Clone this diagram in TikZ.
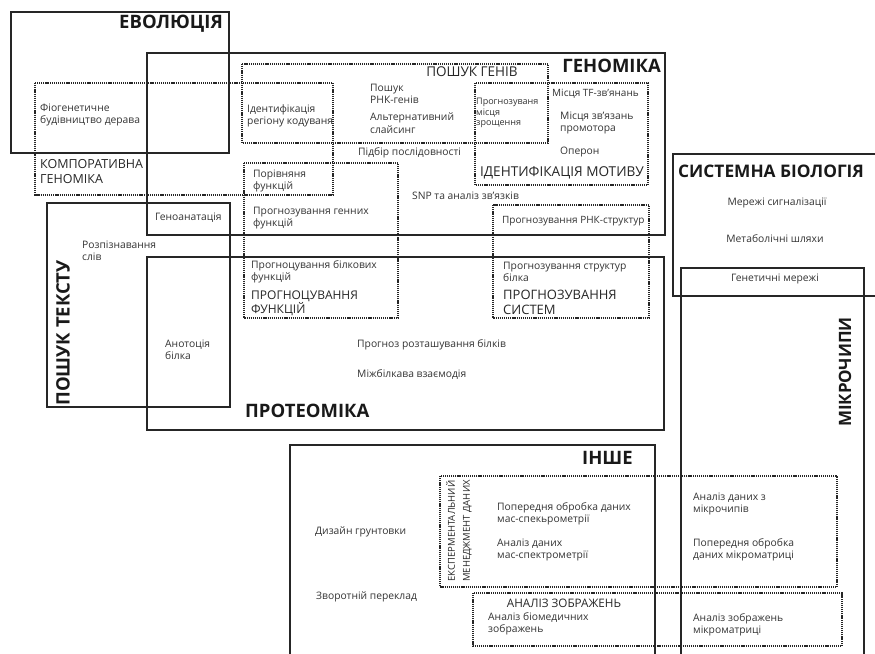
\documentclass[tikz,border=0pt]{standalone}
\usepackage{fontspec}
\setmainfont{Open Sans}

\begin{document}
\begin{tikzpicture}[x=1pt,y=-1pt,
    field/.style={draw=black!85,line width=2.2pt},
    area/.style={draw=black!85,line width=1.8pt,dash pattern=on 1.2pt off 0.9pt},
    title/.style={font=\fontsize{18.5}{18.5}\selectfont\bfseries,text=black!90,inner sep=0pt},
    caps/.style={font=\fontsize{12.5}{15}\selectfont,text=black!85,inner sep=0pt,align=left},
    item/.style={font=\fontsize{10.3}{12.5}\selectfont,text=black!80,inner sep=0pt,align=left}]
      % \draw[help lines](0,0) grid[step=50] (875,653);

      % Bounding box
      \clip (0,0) rectangle (875,653);

      % fields
      \draw[field] (11,12) rectangle (229,153);
      \draw[field] (147,53) rectangle (665,235);
      \draw[field] (47,203) rectangle (230,407);
      \draw[field] (147,257) rectangle (664,430);
      \draw[field] (673,154) rectangle (885,296);
      \draw[field] (681,268) rectangle (864,665);
      \draw[field] (290,445) rectangle (655,665);

      % dotted areas
      \draw[area] (35,83) rectangle (333,195);
      \draw[area] (242,64) rectangle (548,143);
      \draw[area] (244,163) rectangle (398,318);
      \draw[area] (475,83) rectangle (648,185);
      \draw[area] (493,205) rectangle (649,318);
      \draw[area] (440,476) rectangle (837,587);
      \draw[area] (473,593) rectangle (842,646);

      % titles
      \draw (223,24) node (evolution)[title,left] {ЕВОЛЮЦІЯ};
      \draw (661,66) node (genomics)[title,left] {ГЕНОМІКА};
      \draw (678,171) node (sysbio)[title,right,font=\fontsize{17.3}{17.3}\selectfont\bfseries] {СИСТЕМНА БІОЛОГІЯ};
      \draw (245,411) node (proteomics)[title,right] {ПРОТЕОМІКА};
      \draw (633,458) node (other)[title,left] {ІНШЕ};
      \draw (63,333) node (textmining)[title,rotate=90] {ПОШУК ТЕКСТУ};
      \draw (845,372) node (microarray)[title,rotate=90,font=\fontsize{17}{17}\selectfont\bfseries] {МІКРОЧИПИ};

      % evolution / comparative genomics
      \draw (40,115) node (phylo)[item,right] {Фіогенетичне\\будівництво дерава};
      \draw (40,172) node (compgen)[caps,right] {КОМПОРАТИВНА\\ГЕНОМІКА};
      \draw (247,116) node (coding)[item,right] {Ідентифікація\\регіону кодуваня};
      \draw (253,181) node (funccomp)[item,right] {Порівняня\\функцій};

      % gene finding
      \draw (472,72) node (genefind)[caps,font=\fontsize{13.5}{15}\selectfont] {ПОШУК ГЕНІВ};
      \draw (370,94) node (rnagenes)[item,right] {Пошук\\РНК-генів};
      \draw (370,123) node (splicing)[item,right] {Альтернативний\\слайсинг};
      \draw (476,113) node (splicesite)[item,right,font=\fontsize{9}{10.5}\selectfont] {Прогнозуваня\\місця\\зрощення};

      % motif
      \draw (552,94) node (tfsites)[item,right,font=\fontsize{10}{12.5}\selectfont] {Місця TF-зв’янань};
      \draw (560,123) node (promoter)[item,right] {Місця зв’язань\\промотора};
      \draw (560,152) node (operon)[item,right] {Оперон};
      \draw (562,173) node (motif)[caps,font=\fontsize{13.6}{15}\selectfont] {ІДЕНТИФІКАЦІЯ МОТИВУ};

      % genomics
      \draw (358,153) node (seqalign)[item,right] {Підбір послідовності};
      \draw (412,196) node (snp)[item,right] {SNP та аналіз зв’язків};
      \draw (253,218) node (genefunc)[item,right] {Прогнозування генних\\функцій};
      \draw (502,221) node (rnastruct)[item,right,font=\fontsize{10}{12.5}\selectfont] {Прогнозування РНК-структур};
      \draw (155,218) node (geneannot)[item,right] {Геноанатація};

      % text mining
      \draw (82,251) node (wordrec)[item,right] {Розпізнавання\\слів};
      \draw (165,350) node (protannot)[item,right] {Анотоція\\білка};

      % proteomics
      \draw (251,272) node (protfunc)[item,right] {Прогноцування білкових\\функцій};
      \draw (251,303) node (funcpred)[caps,right,font=\fontsize{12}{13}\selectfont] {ПРОГНОЦУВАННЯ\\ФУНКЦІЙ};
      \draw (503,272) node (protstruct)[item,right] {Прогнозування структур\\білка};
      \draw (503,302) node (structpred)[caps,right,font=\fontsize{13}{15}\selectfont] {ПРОГНОЗУВАННЯ\\СИСТЕМ};
      \draw (357,345) node (localization)[item,right] {Прогноз розташування білків};
      \draw (357,375) node (ppi)[item,right] {Міжбілкава взаємодія};

      % systems biology
      \draw (777,203) node (signaling)[item] {Мережі сигналізації};
      \draw (775,239) node (metabolic)[item] {Метаболічні шляхи};
      \draw (775,279) node (genetic)[item] {Генетичні мережі};

      % other
      \draw (459,531) node (expdata)[caps,rotate=90,font=\fontsize{9.5}{15}\selectfont,align=center] {ЕКСПЕРМЕНТАЛЬНИЙ\\МЕНЕДЖМЕНТ ДАНИХ};
      \draw (497,514) node (msprep)[item,right] {Попередня обробка даних\\мас-спекьрометрії};
      \draw (497,550) node (msanal)[item,right] {Аналіз даних\\мас-спектрометрії};
      \draw (315,532) node (primer)[item,right] {Дизайн грунтовки};
      \draw (316,597) node (backtrans)[item,right] {Зворотній переклад};
      \draw (564,603) node (imaging)[caps,font=\fontsize{11.7}{13}\selectfont] {АНАЛІЗ ЗОБРАЖЕНЬ};
      \draw (488,624) node (biomed)[item,right] {Аналіз біомедичних\\зображень};

      % microarray
      \draw (693,504) node (chipanal)[item,right] {Аналіз даних з\\мікрочипів};
      \draw (693,550) node (chipprep)[item,right] {Попередня обробка\\даних мікроматриці};
      \draw (693,625) node (chipimage)[item,right] {Аналіз зображень\\мікроматриці};
    \end{tikzpicture}
\end{document}
